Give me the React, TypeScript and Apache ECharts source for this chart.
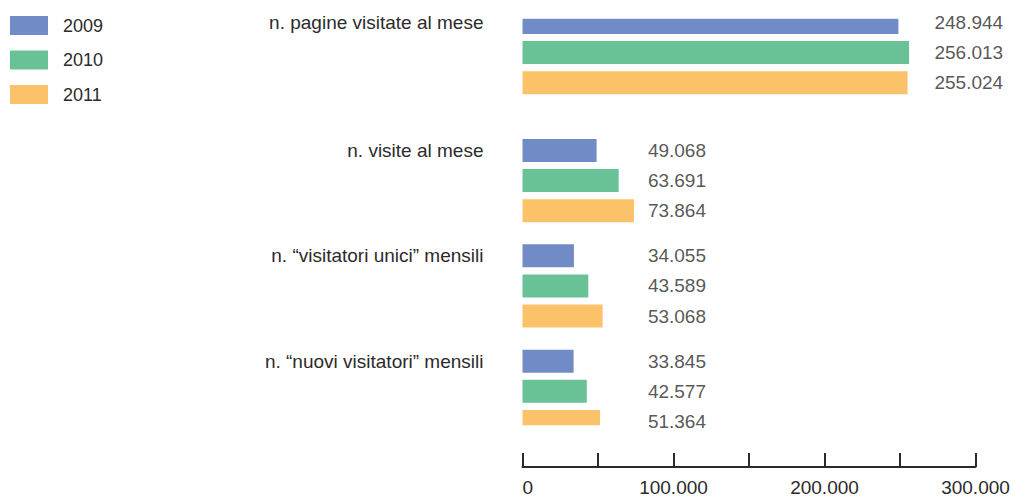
import React, { useEffect, useRef } from "react";
import * as echarts from "echarts";

// ---- data ----
const groups = [
  "n. pagine visitate al mese",
  "n. visite al mese",
  "n. \u201cvisitatori unici\u201d mensili",
  "n. \u201cnuovi visitatori\u201d mensili",
];
const years = ["2009", "2010", "2011"];
const values2009 = [248944, 49068, 34055, 33845];
const values2010 = [256013, 63691, 43589, 42577];
const values2011 = [255024, 73864, 53068, 51364];
const xTicks = [0, 100000, 200000, 300000];

// ---- layout (rows on the category axis) ----
const ROW_COUNT = 54;
const groupRowStart = [0, 17, 31, 45];
const rowStep = 4;
const labelAnchor = [272500, 82700, 82700, 82700]; // x position (axis units) where value labels start

const colors = ["#718BC6", "#68C296", "#FCC26A"];
const textColor = "#2b2b2b";
const FONT = "'Liberation Sans', Arial, sans-serif";

const fmt = (n: number) => String(n).replace(/\B(?=(\d{3})+(?!\d))/g, ".");

export default function App() {
  const ref = useRef<HTMLDivElement>(null);
  useEffect(() => {
    if (!ref.current) return;
    const chart = echarts.init(ref.current, undefined, { renderer: "svg" });
    const seriesValues = [values2009, values2010, values2011];

    const rowNames: string[] = Array.from({ length: ROW_COUNT }, () => "");
    groups.forEach((g, gi) => {
      rowNames[groupRowStart[gi]] = g;
    });

    const barSeries = years.map((y, k) => {
      const data: any[] = Array.from({ length: ROW_COUNT }, () => "-");
      seriesValues[k].forEach((v, gi) => {
        data[groupRowStart[gi] + k * rowStep] = v;
      });
      return {
        name: y,
        type: "bar",
        data,
        barWidth: 23,
        barGap: "-100%",
        itemStyle: { color: colors[k] },
        silent: true,
      };
    });

    const labelData: any[] = [];
    seriesValues.forEach((vals, k) => {
      vals.forEach((v, gi) => {
        labelData.push([labelAnchor[gi], groupRowStart[gi] + k * rowStep, v]);
      });
    });

    chart.setOption({
      animation: false,
      legend: {
        data: years,
        orient: "vertical",
        left: 10,
        top: 16,
        padding: 0,
        itemWidth: 38,
        itemHeight: 19,
        itemGap: 15.5,
        icon: "rect",
        selectedMode: false,
        textStyle: {
          fontFamily: FONT,
          fontSize: 18,
          color: textColor,
          padding: [0, 0, 0, 10],
        },
      },
      grid: {
        left: 522.5,
        right: 37.5,
        top: 18.7,
        bottom: 70.8,
        containLabel: false,
      },
      xAxis: {
        type: "value",
        min: 0,
        max: 300000,
        interval: 50000,
        offset: 41.8,
        splitLine: { show: false },
        axisLine: { show: true, lineStyle: { color: textColor, width: 2 } },
        axisTick: {
          show: true,
          inside: true,
          length: 14,
          lineStyle: { color: textColor, width: 2 },
        },
        axisLabel: {
          margin: 11,
          fontFamily: FONT,
          fontSize: 19,
          color: textColor,
          alignMinLabel: "left",
          formatter: (v: number) => (xTicks.indexOf(v) >= 0 ? fmt(v) : ""),
        },
      },
      yAxis: {
        type: "category",
        inverse: true,
        data: rowNames,
        axisLine: { show: false },
        axisTick: { show: false },
        splitLine: { show: false },
        axisLabel: {
          interval: 0,
          margin: 39,
          fontFamily: FONT,
          fontSize: 19,
          color: textColor,
        },
      },
      series: [
        ...barSeries,
        {
          name: "labels",
          type: "scatter",
          data: labelData,
          symbolSize: 1,
          itemStyle: { color: "transparent" },
          silent: true,
          z: 5,
          label: {
            show: true,
            position: "right",
            distance: 0,
            fontFamily: FONT,
            fontSize: 19,
            color: textColor,
            formatter: (p: any) => fmt(p.data[2]),
          },
        },
      ],
    });
    return () => chart.dispose();
  }, []);

  return (
    <div
      ref={ref}
      style={{ position: "fixed", left: 0, top: 0, width: 1013, height: 497, background: "#fff" }}
    />
  );
}
